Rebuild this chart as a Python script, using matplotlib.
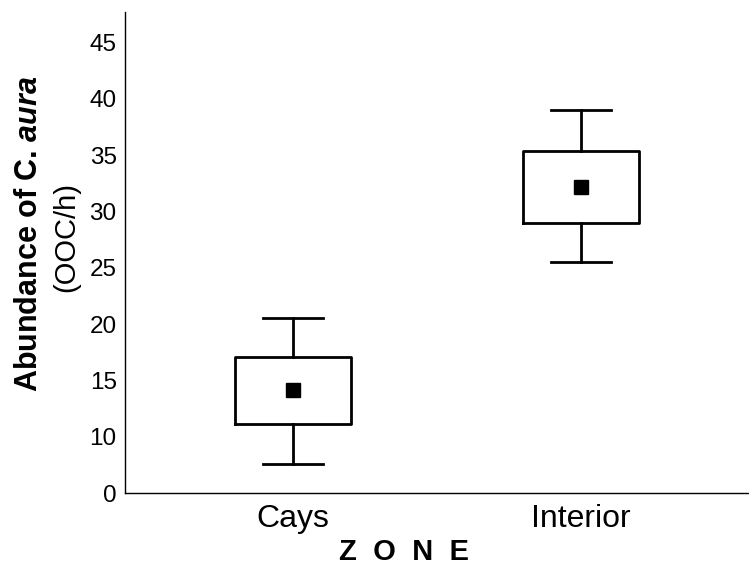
import matplotlib
matplotlib.use('Agg')
import matplotlib.pyplot as plt

categories = ['Cays', 'Interior']
means = [14.1, 32.2]
q1 = [11.1, 29.0]
q3 = [17.1, 35.4]
whislo = [7.6, 25.5]
whishi = [20.5, 39.0]
ytick_pos = [5, 10, 15, 20, 25, 30, 35, 40, 45]
ytick_labels = ['0', '10', '15', '20', '25', '30', '35', '40', '45']

plt.rcParams['font.family'] = ['Liberation Sans', 'DejaVu Sans']
plt.rcParams['mathtext.fontset'] = 'custom'
plt.rcParams['mathtext.rm'] = 'Liberation Sans:bold'
plt.rcParams['mathtext.it'] = 'Liberation Sans:italic:bold'
plt.rcParams['mathtext.bf'] = 'Liberation Sans:bold'

W, H = 749, 568
fig = plt.figure(figsize=(W / 100, H / 100), dpi=100)
ax = fig.add_axes([125 / W, 75 / H, 624 / W, 481 / H])

stats = []
for c, m, a, b, lo, hi in zip(categories, means, q1, q3, whislo, whishi):
    stats.append(dict(label=c, mean=m, med=m, q1=a, q3=b,
                      whislo=lo, whishi=hi, fliers=[]))

lw = 2.0
ax.bxp(stats, positions=[0, 1], widths=0.403, capwidths=0.208,
       showmeans=True, meanline=False, showfliers=False,
       boxprops=dict(color='black', linewidth=lw),
       whiskerprops=dict(color='black', linewidth=lw),
       capprops=dict(color='black', linewidth=lw),
       medianprops=dict(visible=False),
       meanprops=dict(marker='s', markerfacecolor='black',
                      markeredgecolor='black', markersize=9.5))

ax.set_xlim(-0.583, 1.583)
ax.set_ylim(5, 47.7)
ax.set_yticks(ytick_pos, ytick_labels)
ax.set_xticks([0, 1], categories)
ax.tick_params(axis='y', length=0, pad=6, labelsize=17.5)
ax.tick_params(axis='x', length=0, pad=8, labelsize=23)
for s in ['top', 'right']:
    ax.spines[s].set_visible(False)
for s in ['left', 'bottom']:
    ax.spines[s].set_linewidth(1.0)
    ax.spines[s].set_color('black')

fig.text(29 / W, 1 - 234 / H, r'Abundance of C. $\mathit{aura}$',
         rotation=90, ha='center', va='center', fontsize=22,
         fontweight='bold')
fig.text(66 / W, 1 - 237 / H, '(OOC/h)', rotation=90, ha='center',
         va='center', fontsize=21)
fig.text(404 / W, 1 - 552 / H, 'Z  O  N  E', ha='center', va='center',
         fontsize=21, fontweight='bold')

fig.savefig('out.png', dpi=100)
